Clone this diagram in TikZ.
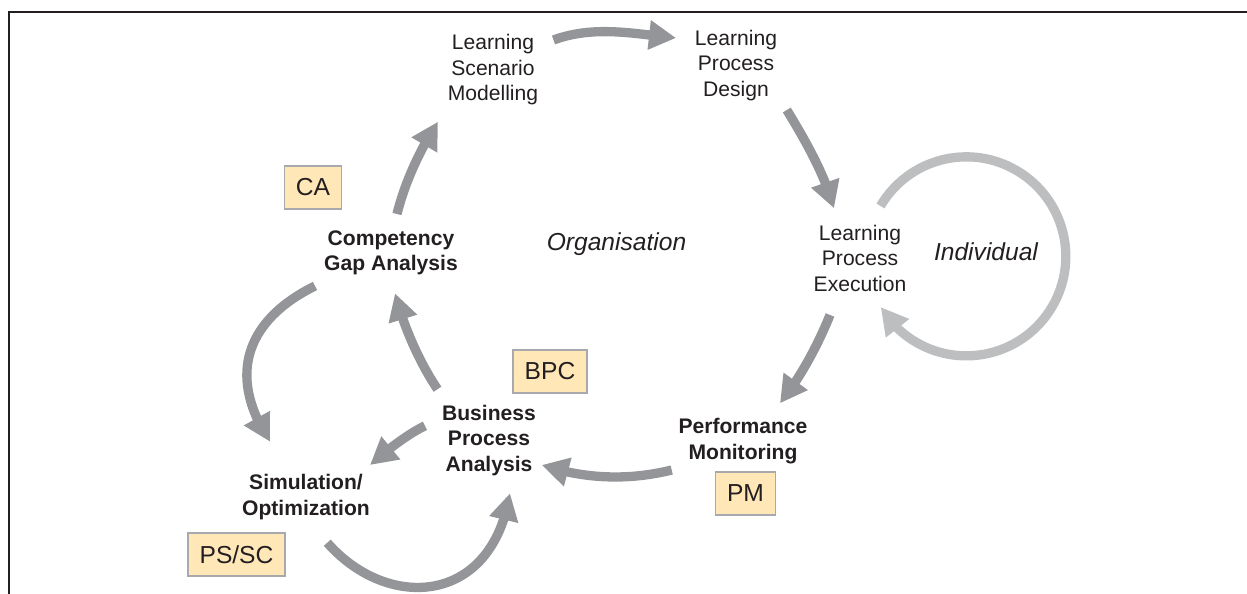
\documentclass[tikz,border=0pt]{standalone}
\usepackage{fontspec}
\setmainfont{Liberation Sans}
\usetikzlibrary{arrows.meta,bending}
\definecolor{arrowgray}{HTML}{939598}
\definecolor{loopgray}{HTML}{BCBEC0}
\definecolor{txt}{HTML}{231F20}
\definecolor{boxfill}{HTML}{FFE7B8}
\definecolor{boxline}{HTML}{A7A9AC}
\begin{document}
\begin{tikzpicture}[x=0.02cm,y=-0.02cm,
  lbl/.style={align=center, text=txt, inner sep=0pt, font=\fontsize{12pt}{14.5pt}\selectfont},
  blbl/.style={lbl, font=\fontsize{12pt}{14.5pt}\selectfont\bfseries},
  ilbl/.style={text=txt, inner sep=0pt, font=\fontsize{14pt}{16pt}\selectfont\itshape},
  tag/.style={draw=boxline, line width=1pt, fill=boxfill, text=txt, minimum height=0.86cm, inner xsep=0.23cm, inner ysep=0pt, font=\fontsize{14pt}{16pt}\selectfont},
  flow/.style={draw=arrowgray, line width=0.186cm, -{Triangle[width=0.56cm,length=0.54cm,flex]}},
  loopflow/.style={flow, draw=loopgray}
]
\useasboundingbox (0,0) rectangle (1247,594);
\draw[txt, line width=1.5pt] (9,594) -- (9,12) -- (1247,12);

% texts
\node[lbl]  (lsm) at (493,70)   {Learning\\Scenario\\Modelling};
\node[lbl]  (lpd) at (736,65.5) {Learning\\Process\\Design};
\node[lbl]  (lpe) at (860,258)  {Learning\\Process\\Execution};
\node[blbl] (cga) at (391,253)  {Competency\\Gap Analysis};
\node[blbl] (bpa) at (489,440.5) {Business\\Process\\Analysis};
\node[blbl] (pmt) at (743,441)  {Performance\\Monitoring};
\node[blbl] (sim) at (306,497)  {Simulation/\\Optimization};
\node[ilbl] (org) at (616.5,244.5) {Organisation};
\node[ilbl] (ind) at (986,252)  {Individual};

% tags
\node[tag] (ca)   at (313,187.5)  {CA};
\node[tag] (bpc)  at (550,371.5)  {BPC};
\node[tag] (pm)   at (745.5,493.5) {PM};
\node[tag] (pssc) at (236.5,554.5) {PS/SC};

% arrow end points
\coordinate (a1s) at (553.5,40);   \coordinate (a1e) at (676,38);
\coordinate (a2s) at (786.8,110);  \coordinate (a2e) at (834,208.3);
\coordinate (a3s) at (830,315);    \coordinate (a3e) at (780,403.3);
\coordinate (a4s) at (671.7,470);  \coordinate (a4e) at (541.7,465);
\coordinate (a5s) at (437.5,389.2); \coordinate (a5e) at (395,293.3);
\coordinate (a6s) at (397,214);    \coordinate (a6e) at (438,121.7);
\coordinate (a7s) at (425,425.8);  \coordinate (a7e) at (370,465);
\coordinate (a8s) at (315,286);    \coordinate (a8e) at (270,441.7);
\coordinate (a9s) at (327.3,542.7); \coordinate (a9e) at (510,493.3);
\coordinate (ls)  at (880.5,206);

% connectors
\draw[flow] (a1s) .. controls +(41.8,-15.3) and +(-39.8,-3.7) .. (a1e);
\draw[flow] (a2s) .. controls +(18.2,29.9) and +(-9.2,-33.8) .. (a2e);
\draw[flow] (a3s) .. controls +(-12.4,30.6) and +(20.5,-25.9) .. (a3e);
\draw[flow] (a4s) .. controls +(-43.7,10.8) and +(42.8,14) .. (a4e);
\draw[flow] (a5s) .. controls +(-18.5,-27.4) and +(8.2,32) .. (a5e);
\draw[flow] (a6s) .. controls +(7.9,-32) and +(-17.9,27.8) .. (a6e);
\draw[flow] (a7s) .. controls +(-18,8.6) and +(15,-13.2) .. (a7e);
\draw[flow] (a8s) .. controls +(-58.5,28.6) and +(-49.1,-75) .. (a8e);
\draw[flow] (a9s) .. controls +(59.3,67.8) and +(-18.4,113.5) .. (a9e);
\draw[loopflow] (ls) arc[start angle=-149.6, end angle=149.3, radius=99.5];
\end{tikzpicture}
\end{document}
